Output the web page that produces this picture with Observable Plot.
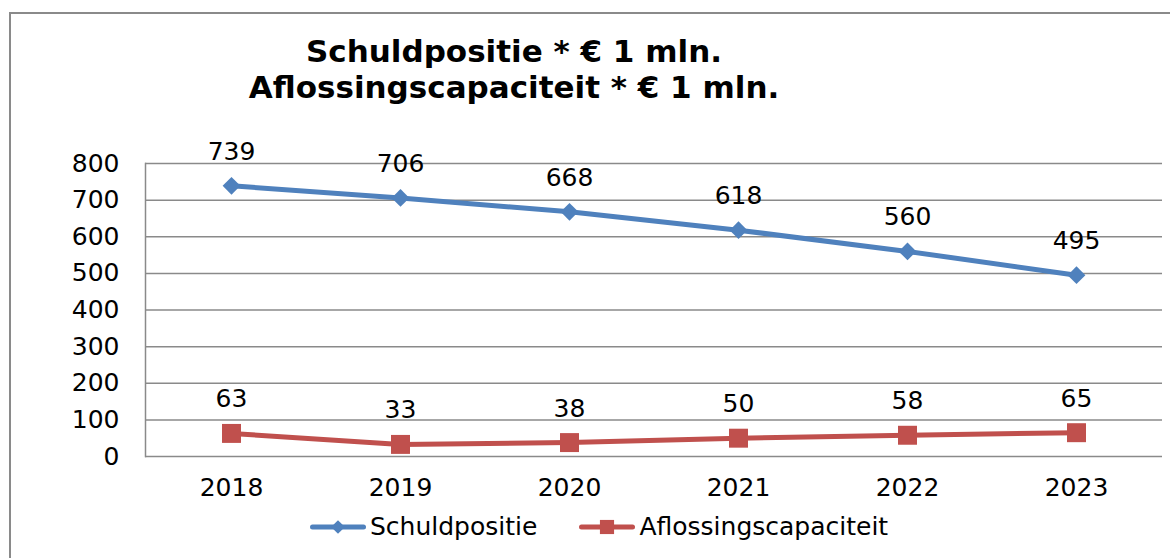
<!DOCTYPE html>
<html>
<head>
<meta charset="utf-8">
<script src="https://cdn.jsdelivr.net/npm/d3@7"></script>
<script src="https://cdn.jsdelivr.net/npm/@observablehq/plot@0.6"></script>
<style>
  html, body { margin: 0; padding: 0; background: #fff; }
  #wrap { position: relative; width: 1170px; height: 558px; overflow: hidden; font-family: "DejaVu Sans", Verdana, sans-serif; }
  #border { position: absolute; left: 9px; top: 12px; width: 1200px; height: 600px; border: 2px solid #8a8a8a; box-sizing: border-box; }
  #title { position: absolute; left: 114px; width: 800px; top: 33px; text-align: center; font-weight: bold; font-size: 31px; line-height: 36px; color: #000; }
  #chart { position: absolute; left: 0; top: 0; }
  #legend { position: absolute; left: 310px; top: 512px; display: flex; align-items: center; font-size: 25px; color: #000; }
  .item { display: flex; align-items: center; margin-right: 42px; }
  .item svg { margin-right: 4px; }
</style>
</head>
<body>
<div id="wrap">
  <div id="border"></div>
  <div id="chart"></div>
  <div id="title"></div>
  <div id="legend"></div>
</div>
<script>
const titleLines = ["Schuldpositie * € 1 mln.", "Aflossingscapaciteit * € 1 mln."];
const years = ["2018", "2019", "2020", "2021", "2022", "2023"];
const schuldpositie = [739, 706, 668, 618, 560, 495];
const aflossingscapaciteit = [63, 33, 38, 50, 58, 65];
const yTicks = [0, 100, 200, 300, 400, 500, 600, 700, 800];
const seriesNames = ["Schuldpositie", "Aflossingscapaciteit"];
const seriesColors = ["#4F81BD", "#C0504D"];
const seriesSymbols = ["diamond2", "square"];

const rows = [];
[schuldpositie, aflossingscapaciteit].forEach((vals, s) => {
  vals.forEach((v, i) => rows.push({ year: years[i], value: v, series: seriesNames[s] }));
});

document.getElementById("title").innerHTML = titleLines.join("<br>");

const plot = Plot.plot({
  width: 1170,
  height: 558,
  marginLeft: 145,
  marginRight: 8,
  marginTop: 163,
  marginBottom: 102,
  style: { fontFamily: "DejaVu Sans, Verdana, sans-serif", fontSize: "25px", color: "#000", background: "transparent", overflow: "visible" },
  x: { type: "point", domain: years, padding: 0.5, label: null, tickSize: 0, tickPadding: 22 },
  y: { domain: [0, 800], ticks: yTicks, label: null, tickSize: 0, tickPadding: 26 },
  color: { domain: seriesNames, range: seriesColors },
  symbol: { domain: seriesNames, range: seriesSymbols },
  marks: [
    Plot.ruleY(yTicks, { stroke: "#8a8a8a", strokeWidth: 1.5 }),
    Plot.frame({ anchor: "left", stroke: "#8a8a8a", strokeWidth: 1.5 }),
    Plot.line(rows, { x: "year", y: "value", z: "series", stroke: "series", strokeWidth: 5 }),
    Plot.dot(rows.filter(d => d.series === seriesNames[0]), { x: "year", y: "value", symbol: "series", fill: "series", r: 8, stroke: null }),
    Plot.dot(rows.filter(d => d.series === seriesNames[1]), { x: "year", y: "value", symbol: "series", fill: "series", r: 10.7, stroke: null }),
    Plot.text(rows, { x: "year", y: "value", text: d => String(d.value), dy: -34, fill: "#000", fontSize: 25 })
  ]
});
document.getElementById("chart").appendChild(plot);

// legend
const legend = document.getElementById("legend");
seriesNames.forEach((name, i) => {
  const item = document.createElement("div");
  item.className = "item";
  const ns = "http://www.w3.org/2000/svg";
  const svg = document.createElementNS(ns, "svg");
  svg.setAttribute("width", 56);
  svg.setAttribute("height", 24);
  const line = document.createElementNS(ns, "line");
  line.setAttribute("x1", 2.5); line.setAttribute("x2", 53.5);
  line.setAttribute("y1", 12); line.setAttribute("y2", 12);
  line.setAttribute("stroke", seriesColors[i]);
  line.setAttribute("stroke-width", 5);
  line.setAttribute("stroke-linecap", "round");
  svg.appendChild(line);
  const sym = document.createElementNS(ns, "path");
  const symType = i === 0 ? d3.symbolDiamond2 : d3.symbolSquare;
  const size = i === 0 ? 120 : 200;
  sym.setAttribute("d", d3.symbol(symType, size)());
  sym.setAttribute("transform", "translate(28,12)");
  sym.setAttribute("fill", seriesColors[i]);
  svg.appendChild(sym);
  item.appendChild(svg);
  const span = document.createElement("span");
  span.textContent = name;
  item.appendChild(span);
  legend.appendChild(item);
});
</script>
</body>
</html>
